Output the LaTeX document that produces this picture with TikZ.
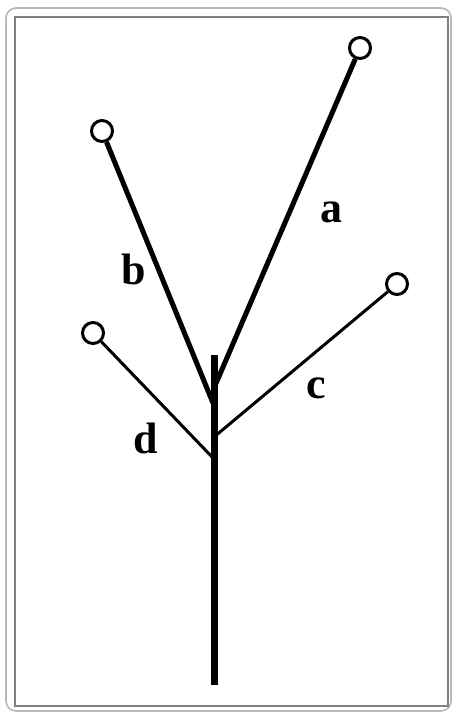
\documentclass[tikz,border=0pt]{standalone}
\usepackage{fontspec}
\setmainfont{Liberation Serif}
\usetikzlibrary{positioning}
\tikzset{
  tip/.style={circle, draw, fill=white, line width=1.5pt, minimum size=10.5pt, inner sep=0pt},
  lbl/.style={font=\fontsize{22}{22}\selectfont\bfseries, anchor=base, inner sep=0pt},
  frame/.style={line width=0.8pt}
}
\begin{document}
\begin{tikzpicture}[x=0.5pt, y=-0.5pt]
    \useasboundingbox (0,0) rectangle (454,713);
    % Frame
    \draw[frame, gray!55, rounded corners=5pt] (6,8) rectangle (451,711);
    \draw[frame, gray] (15,17) rectangle (448,706);

    % Stem
    \coordinate (top) at (214,355);
    \coordinate (base) at (214,685);
    \draw[line width=3.5pt] (top) -- (base);

    % Branch tips
    \node[tip] (ta) at (360,48) {};
    \node[tip] (tb) at (102,131) {};
    \node[tip] (tc) at (397,284) {};
    \node[tip] (td) at (93,333) {};

    % Branches
    \coordinate (ja) at (214,388);
    \coordinate (jb) at (213,403);
    \coordinate (jc) at (214,437);
    \coordinate (jd) at (214,459);
    \draw[line width=2.5pt] (ja) -- (ta);
    \draw[line width=2.5pt] (jb) -- (tb);
    \draw[line width=1.5pt] (jc) -- (tc);
    \draw[line width=1.5pt] (jd) -- (td);

    % Labels
    \node[lbl] (la) at (331,222) {a};
    \node[lbl] (lb) at (134,284) {b};
    \node[lbl] (lc) at (316,398) {c};
    \node[lbl] (ld) at (146,453) {d};
\end{tikzpicture}
\end{document}
